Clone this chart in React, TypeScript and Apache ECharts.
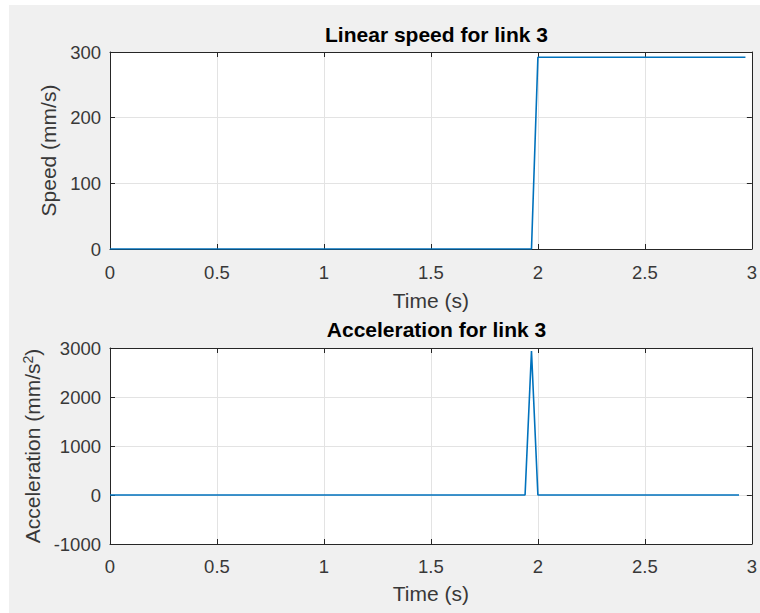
import React, { useEffect, useRef } from "react";
import * as echarts from "echarts";

// Data (polyline vertices)
const speedTime = [0, 1.97, 2.0, 2.97];
const speedValues = [0, 0, 292, 292];
const accelTime = [0, 1.94, 1.97, 2.0, 2.94];
const accelValues = [0, 0, 2940, 0, 0];

const speedTitle = "Linear speed for link 3";
const accelTitle = "Acceleration for link 3";
const xName = "Time (s)";
const speedName = "Speed (mm/s)";

const FONT = "'Liberation Sans', Arial, Helvetica, sans-serif";
const AX = "#262626";
const TXT = "#383838";
const GRID = "#e3e3e3";
const LINE = "#0072BD";

const plain = (v: number) => String(v);

export default function App() {
  const ref = useRef<HTMLDivElement>(null);

  useEffect(() => {
    if (!ref.current) return;
    const chart = echarts.init(ref.current, undefined, { renderer: "svg" });

    const grids = [
      { left: 110, top: 52, width: 643, height: 197 },
      { left: 110, top: 348, width: 643, height: 196 },
    ];

    const mainX = (gi: number, gap: number, margin: number) => ({
      type: "value",
      gridIndex: gi,
      min: 0,
      max: 3,
      interval: 0.5,
      name: xName,
      nameLocation: "middle",
      nameGap: gap,
      nameTextStyle: { fontFamily: FONT, fontSize: 21, color: TXT },
      axisLine: { show: true, onZero: false, lineStyle: { color: AX, width: 1 } },
      axisTick: { show: true, inside: true, length: 5, lineStyle: { color: AX } },
      axisLabel: { fontFamily: FONT, fontSize: 18.5, color: TXT, margin, formatter: plain },
      splitLine: { show: true, lineStyle: { color: GRID, width: 1 } },
    });
    const topX = (gi: number) => ({
      type: "value",
      gridIndex: gi,
      position: "top",
      min: 0,
      max: 3,
      interval: 0.5,
      axisLine: { show: true, onZero: false, lineStyle: { color: AX, width: 1 } },
      axisTick: { show: true, inside: true, length: 5, lineStyle: { color: AX } },
      axisLabel: { show: false },
      splitLine: { show: false },
    });
    const rightY = (gi: number, min: number, max: number, interval: number) => ({
      type: "value",
      gridIndex: gi,
      position: "right",
      min,
      max,
      interval,
      axisLine: { show: true, onZero: false, lineStyle: { color: AX, width: 1 } },
      axisTick: { show: true, inside: true, length: 5, lineStyle: { color: AX } },
      axisLabel: { show: false },
      splitLine: { show: false },
    });

    const option: any = {
      animation: false,
      backgroundColor: "transparent",
      title: [
        {
          text: speedTitle,
          left: 431.5,
          top: 19,
          textAlign: "center",
          textStyle: { fontFamily: FONT, fontSize: 21, fontWeight: "bold", color: "#000" },
        },
        {
          text: accelTitle,
          left: 431.5,
          top: 314,
          textAlign: "center",
          textStyle: { fontFamily: FONT, fontSize: 21, fontWeight: "bold", color: "#000" },
        },
      ],
      grid: grids.map((g) => ({
        ...g,
        show: true,
        backgroundColor: "#ffffff",
        borderWidth: 0,
        containLabel: false,
      })),
      xAxis: [mainX(0, 41, 14), topX(0), mainX(1, 39, 13), topX(1)],
      yAxis: [
        {
          type: "value",
          gridIndex: 0,
          min: 0,
          max: 300,
          interval: 100,
          name: speedName,
          nameLocation: "middle",
          nameGap: 49,
          nameTextStyle: { fontFamily: FONT, fontSize: 21, color: TXT },
          axisLine: { show: true, onZero: false, lineStyle: { color: AX, width: 1 } },
          axisTick: { show: true, inside: true, length: 5, lineStyle: { color: AX } },
          axisLabel: { fontFamily: FONT, fontSize: 18.5, color: TXT, margin: 9, formatter: plain },
          splitLine: { show: true, lineStyle: { color: GRID, width: 1 } },
        },
        rightY(0, 0, 300, 100),
        {
          type: "value",
          gridIndex: 1,
          min: -1000,
          max: 3000,
          interval: 1000,
          name: "Acceleration (mm/s{sup|2})",
          nameLocation: "middle",
          nameGap: 67,
          nameTextStyle: {
            fontFamily: FONT,
            fontSize: 21,
            color: TXT,
            rich: {
              sup: {
                fontFamily: FONT,
                fontSize: 14,
                color: TXT,
                verticalAlign: "top",
                padding: [0, 0, 8, 0],
              },
            },
          },
          axisLine: { show: true, onZero: false, lineStyle: { color: AX, width: 1 } },
          axisTick: { show: true, inside: true, length: 5, lineStyle: { color: AX } },
          axisLabel: { fontFamily: FONT, fontSize: 18.5, color: TXT, margin: 9, formatter: plain },
          splitLine: { show: true, lineStyle: { color: GRID, width: 1 } },
        },
        rightY(1, -1000, 3000, 1000),
      ],
      series: [
        {
          type: "line",
          xAxisIndex: 0,
          yAxisIndex: 0,
          data: speedTime.map((t, i) => [t, speedValues[i]]),
          showSymbol: false,
          symbol: "none",
          lineStyle: { color: LINE, width: 1.6 },
          z: 5,
        },
        {
          type: "line",
          xAxisIndex: 2,
          yAxisIndex: 2,
          data: accelTime.map((t, i) => [t, accelValues[i]]),
          showSymbol: false,
          symbol: "none",
          lineStyle: { color: LINE, width: 1.6 },
          z: 5,
        },
      ],
    };

    chart.setOption(option);
    return () => chart.dispose();
  }, []);

  return (
    <div style={{ position: "fixed", left: 0, top: 0, width: 760, height: 613, background: "#ffffff" }}>
      <div
        style={{ position: "absolute", left: 9, top: 5, width: 751, height: 608, background: "#f0f0f0" }}
      />
      <div ref={ref} style={{ position: "absolute", left: 0, top: 0, width: 760, height: 613 }} />
    </div>
  );
}
